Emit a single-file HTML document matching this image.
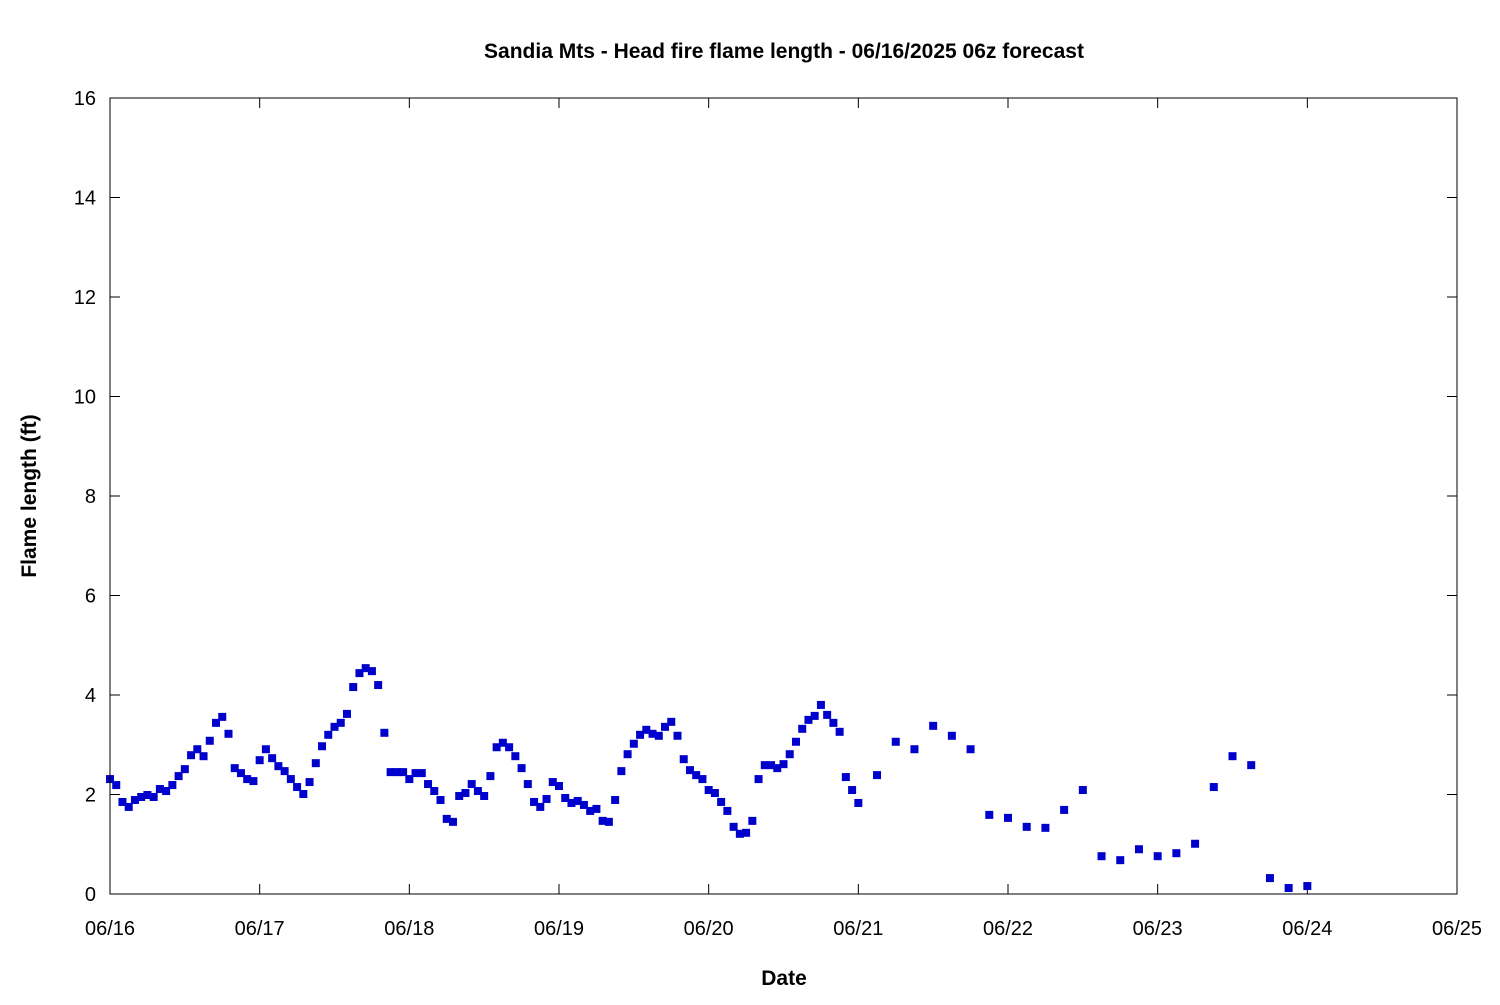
<!DOCTYPE html>
<html><head><meta charset="utf-8"><style>
body{margin:0;background:#fff;}
svg text{font-family:"Liberation Sans","DejaVu Sans",sans-serif;fill:#000;}
</style></head><body>
<svg id="chart" width="1500" height="1000" xmlns="http://www.w3.org/2000/svg">
<rect width="1500" height="1000" fill="#fff"/>
<text x="784" y="58" text-anchor="middle" font-size="21" font-weight="bold">Sandia Mts - Head fire flame length - 06/16/2025 06z forecast</text>
<text x="784" y="985" text-anchor="middle" font-size="21" font-weight="bold">Date</text>
<text transform="translate(36,496) rotate(-90)" text-anchor="middle" font-size="21" font-weight="bold">Flame length (ft)</text>
<g id="axes"></g>
<g id="points"></g>
<rect x="110" y="98" width="1347" height="796" fill="none" stroke="#000" stroke-width="1"/>
</svg>
<script>
const xTickLabels=["06/16","06/17","06/18","06/19","06/20","06/21","06/22","06/23","06/24","06/25"];
const yTicks=[0,2,4,6,8,10,12,14,16];
const hours=[];
for(let h=0;h<=120;h++)hours.push(h);
for(let h=123;h<=192;h+=3)hours.push(h);
const flameLength=[
2.31,2.19,1.85,1.75,1.89,1.95,1.99,1.95,2.11,2.07,2.19,2.37,2.51,2.79,2.91,2.77,3.08,3.44,3.56,3.22,2.53,2.43,2.31,2.27,
2.69,2.91,2.73,2.57,2.47,2.31,2.15,2.01,2.25,2.63,2.97,3.20,3.36,3.44,3.62,4.16,4.44,4.54,4.48,4.20,3.24,2.45,2.45,2.45,
2.31,2.43,2.43,2.21,2.07,1.89,1.51,1.45,1.97,2.03,2.21,2.07,1.97,2.37,2.95,3.04,2.95,2.77,2.53,2.21,1.85,1.75,1.91,2.25,
2.17,1.93,1.83,1.87,1.79,1.67,1.71,1.47,1.45,1.89,2.47,2.81,3.02,3.20,3.30,3.22,3.18,3.36,3.46,3.18,2.71,2.49,2.39,2.31,
2.09,2.03,1.85,1.67,1.35,1.21,1.23,1.47,2.31,2.59,2.59,2.53,2.61,2.81,3.06,3.32,3.50,3.58,3.80,3.60,3.44,3.26,2.35,2.09,
1.83,
2.39,3.06,2.91,3.38,3.18,2.91,1.59,1.53,1.35,1.33,1.69,2.09,0.76,0.68,0.90,0.76,0.82,1.01,2.15,2.77,2.59,0.32,0.12,0.16
];
const X0=110,X1=1457,Y0=894,Y1=98;
const xScale=h=>X0+(X1-X0)*h/(9*24);
const yScale=v=>Y0-(Y0-Y1)*v/16;
const NS="http://www.w3.org/2000/svg";
const axes=document.getElementById('axes');
function mk(tag,attrs,parent){const e=document.createElementNS(NS,tag);for(const k in attrs)e.setAttribute(k,attrs[k]);parent.appendChild(e);return e;}
xTickLabels.forEach((lab,i)=>{
  const x=xScale(i*24);
  const t1=mk('line',{x1:x,x2:x,y1:Y0,y2:Y0-10,stroke:'#000'},axes);
  
  
  const t2=mk('line',{x1:x,x2:x,y1:Y1,y2:Y1+10,stroke:'#000'},axes);
  
  
  const tx=mk('text',{x:x,y:935,'text-anchor':'middle','font-size':'20'},axes);
  tx.textContent=lab;
  
  
});
yTicks.forEach(v=>{
  const y=yScale(v);
  const t1=mk('line',{x1:X0,x2:X0+10,y1:y,y2:y,stroke:'#000'},axes);
  
  
  const t2=mk('line',{x1:X1,x2:X1-10,y1:y,y2:y,stroke:'#000'},axes);
  
  
  const tx=mk('text',{x:96,y:y+7,'text-anchor':'end','font-size':'20'},axes);
  tx.textContent=v;
  
  
});
const pts=document.getElementById('points');
hours.forEach((h,i)=>{
  const r=mk('rect',{x:xScale(h)-4,y:yScale(flameLength[i])-4,width:8,height:8,fill:'#0000cc'},pts);
  
  
});
</script>
</body></html>
